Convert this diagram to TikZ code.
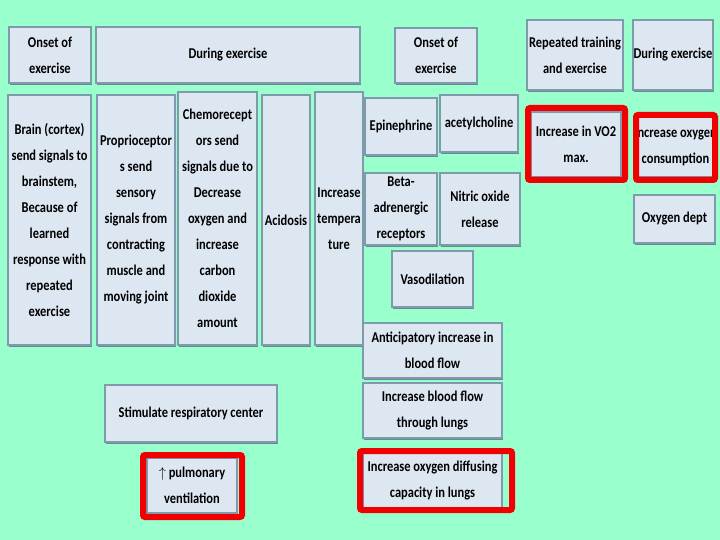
\documentclass[tikz,border=0pt]{standalone}
\usepackage{fontspec}
\setmainfont{Carlito}[FakeStretch=0.83]
\usetikzlibrary{shadows}
\definecolor{bgmint}{RGB}{153,255,204}
\definecolor{boxfill}{RGB}{221,231,241}
\definecolor{boxline}{RGB}{125,155,170}
\definecolor{shadowc}{RGB}{110,135,150}
\definecolor{redframe}{RGB}{240,0,0}
\begin{document}
\begin{tikzpicture}[x=1pt,y=-1pt,
  box/.style={draw=boxline, fill=boxfill, line width=1.3pt, align=center,
    inner sep=0pt, font=\fontsize{15}{26}\selectfont\bfseries,
    general shadow={fill=shadowc, shadow xshift=1.2pt, shadow yshift=-1.6pt}},
  frame/.style={draw=redframe, line width=6pt, rounded corners=2pt, inner sep=0pt}]
\fill[bgmint] (0,0) rectangle (720,540);
\useasboundingbox (0,0) rectangle (720,540);
% top row
\node[box, minimum width=82pt, minimum height=56pt] (onsetA) at (50,55) {Onset of\\exercise};
\node[box, minimum width=264pt, minimum height=56pt] (duringA) at (228,55) {During exercise};
\node[box, minimum width=82pt, minimum height=55pt] (onsetB) at (436,55.5) {Onset of\\exercise};
\node[box, minimum width=96pt, minimum height=70pt] (repeated) at (575,55) {Repeated training\\and exercise};
\node[box, minimum width=80pt, minimum height=70pt] (duringB) at (673,55) {During exercise};
% tall column boxes
\node[box, minimum width=83pt, minimum height=250pt] (brain) at (49.5,220) {Brain (cortex)\\send signals to\\brainstem,\\Because of\\learned\\response with\\repeated\\exercise};
\node[box, minimum width=78pt, minimum height=250pt] (proprio) at (136,220) {Proprioceptor\\s send\\sensory\\signals from\\contracting\\muscle and\\moving joint};
\node[box, minimum width=79pt, minimum height=253pt] (chemo) at (217.5,218.5) {Chemorecept\\ors send\\signals due to\\Decrease\\oxygen and\\increase\\carbon\\dioxide\\amount};
\node[box, minimum width=48pt, minimum height=250pt] (acidosis) at (286,220) {Acidosis};
\node[box, minimum width=48pt, minimum height=253pt] (temp) at (339,218.5) {Increase\\tempera\\ture};
% middle group
\node[box, minimum width=72pt, minimum height=57pt] (epi) at (401,126.5) {Epinephrine};
\node[box, minimum width=78pt, minimum height=57pt] (acetyl) at (479,123.5) {acetylcholine};
\node[box, minimum width=72pt, minimum height=72pt] (beta) at (401,209) {Beta-\\adrenergic\\receptors};
\node[box, minimum width=80pt, minimum height=72pt] (nitric) at (480,209) {Nitric oxide\\release};
\node[box, minimum width=81pt, minimum height=56pt] (vaso) at (432.5,279) {Vasodilation};
\node[box, minimum width=139pt, minimum height=55pt] (anticip) at (432.5,350.5) {Anticipatory increase in\\blood flow};
\node[box, minimum width=139pt, minimum height=55pt] (lungflow) at (432.5,410.5) {Increase blood flow\\through lungs};
\node[box, minimum width=139pt, minimum height=55pt] (diffusing) at (432.5,480.5) {Increase oxygen diffusing\\capacity in lungs};
% right group
\node[box, minimum width=90pt, minimum height=65pt] (vo2) at (576,144.5) {Increase in VO2\\max.};
\node[box, minimum width=73pt, minimum height=60pt] (o2cons) at (675.5,147) {Increase oxygen\\consumption};
\node[box, minimum width=81pt, minimum height=48pt] (o2dept) at (674.5,219) {Oxygen dept};
% bottom left
\node[box, minimum width=172pt, minimum height=57pt] (stim) at (191,413.5) {Stimulate respiratory center};
\node[box, minimum width=90pt, minimum height=55pt] (pulm) at (192,485.5) {$\uparrow$ pulmonary\\ventilation};
% red highlight frames
\node[frame, minimum width=97pt, minimum height=72pt] (vo2F) at (576.5,144) {};
\node[frame, minimum width=79pt, minimum height=65pt] (o2consF) at (675.5,147.5) {};
\node[frame, minimum width=152pt, minimum height=59pt] (diffF) at (436,480.5) {};
\node[frame, minimum width=99pt, minimum height=62pt] (pulmF) at (192.5,486) {};
\end{tikzpicture}
\end{document}
